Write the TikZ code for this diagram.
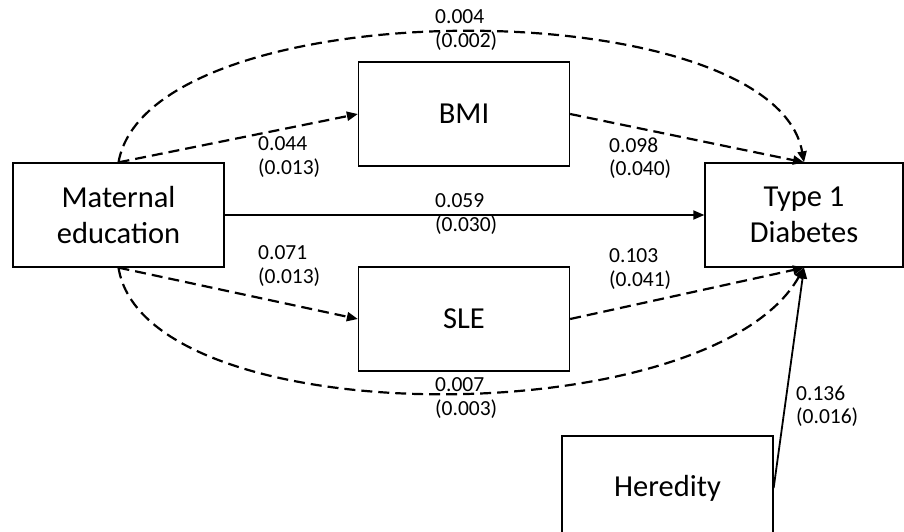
\documentclass[tikz,border=0pt]{standalone}
\usepackage{fontspec}
\setmainfont{Carlito}
\usetikzlibrary{arrows.meta, positioning, calc}

\begin{document}
\begin{tikzpicture}[
  x=1pt, y=-1pt,
  var/.style={rectangle, draw=black, line width=1.3pt, fill=white,
              minimum width=211pt, minimum height=104pt, align=center,
              font=\fontsize{30.5}{36}\selectfont},
  coef/.style={anchor=west, inner sep=0pt, align=left,
               font=\fontsize{21.5}{23.5}\selectfont},
  arr/.style={-{Triangle[length=11pt, width=9pt]}, line width=1.8pt},
  darr/.style={arr, line width=2.2pt, dash pattern=on 11pt off 6pt}
]
\clip (0,0) rectangle (904,532);
%% variables
\node[var] (mat) at (118.5,215) {Maternal\\education};
\node[var] (bmi) at (464,114)   {BMI};
\node[var] (sle) at (464,319)   {SLE};
\node[var, minimum width=198pt] (t1d) at (804,215) {Type 1\\Diabetes};
\node[var] (her) at (667.5,488) {Heredity};
%% paths
\draw[darr] (mat.north) to[out=80, in=100, looseness=0.66] (t1d.north);
\draw[darr] (mat.north) -- (bmi.west);
\draw[darr] (bmi.east)  -- (t1d.north);
\draw[arr]  (mat.east)  -- (t1d.west);
\draw[darr] (mat.south) -- (sle.west);
\draw[darr] (sle.east)  -- (t1d.south);
\draw[darr] (mat.south) .. controls (145,435) and (710,435) .. (t1d.south);
\draw[arr]  (her.east)  -- (t1d.south);
%% coefficients (se)
\node[coef] (c_tot) at (435,30)  {0.004\\(0.002)};
\node[coef] (c_a1)  at (258,157) {0.044\\(0.013)};
\node[coef] (c_b1)  at (609,158) {0.098\\(0.040)};
\node[coef] (c_dir) at (435,214) {0.059\\(0.030)};
\node[coef] (c_a2)  at (258,266) {0.071\\(0.013)};
\node[coef] (c_b2)  at (609,269) {0.103\\(0.041)};
\node[coef] (c_ind) at (435,398) {0.007\\(0.003)};
\node[coef] (c_her) at (796,406) {0.136\\(0.016)};
\end{tikzpicture}
\end{document}
